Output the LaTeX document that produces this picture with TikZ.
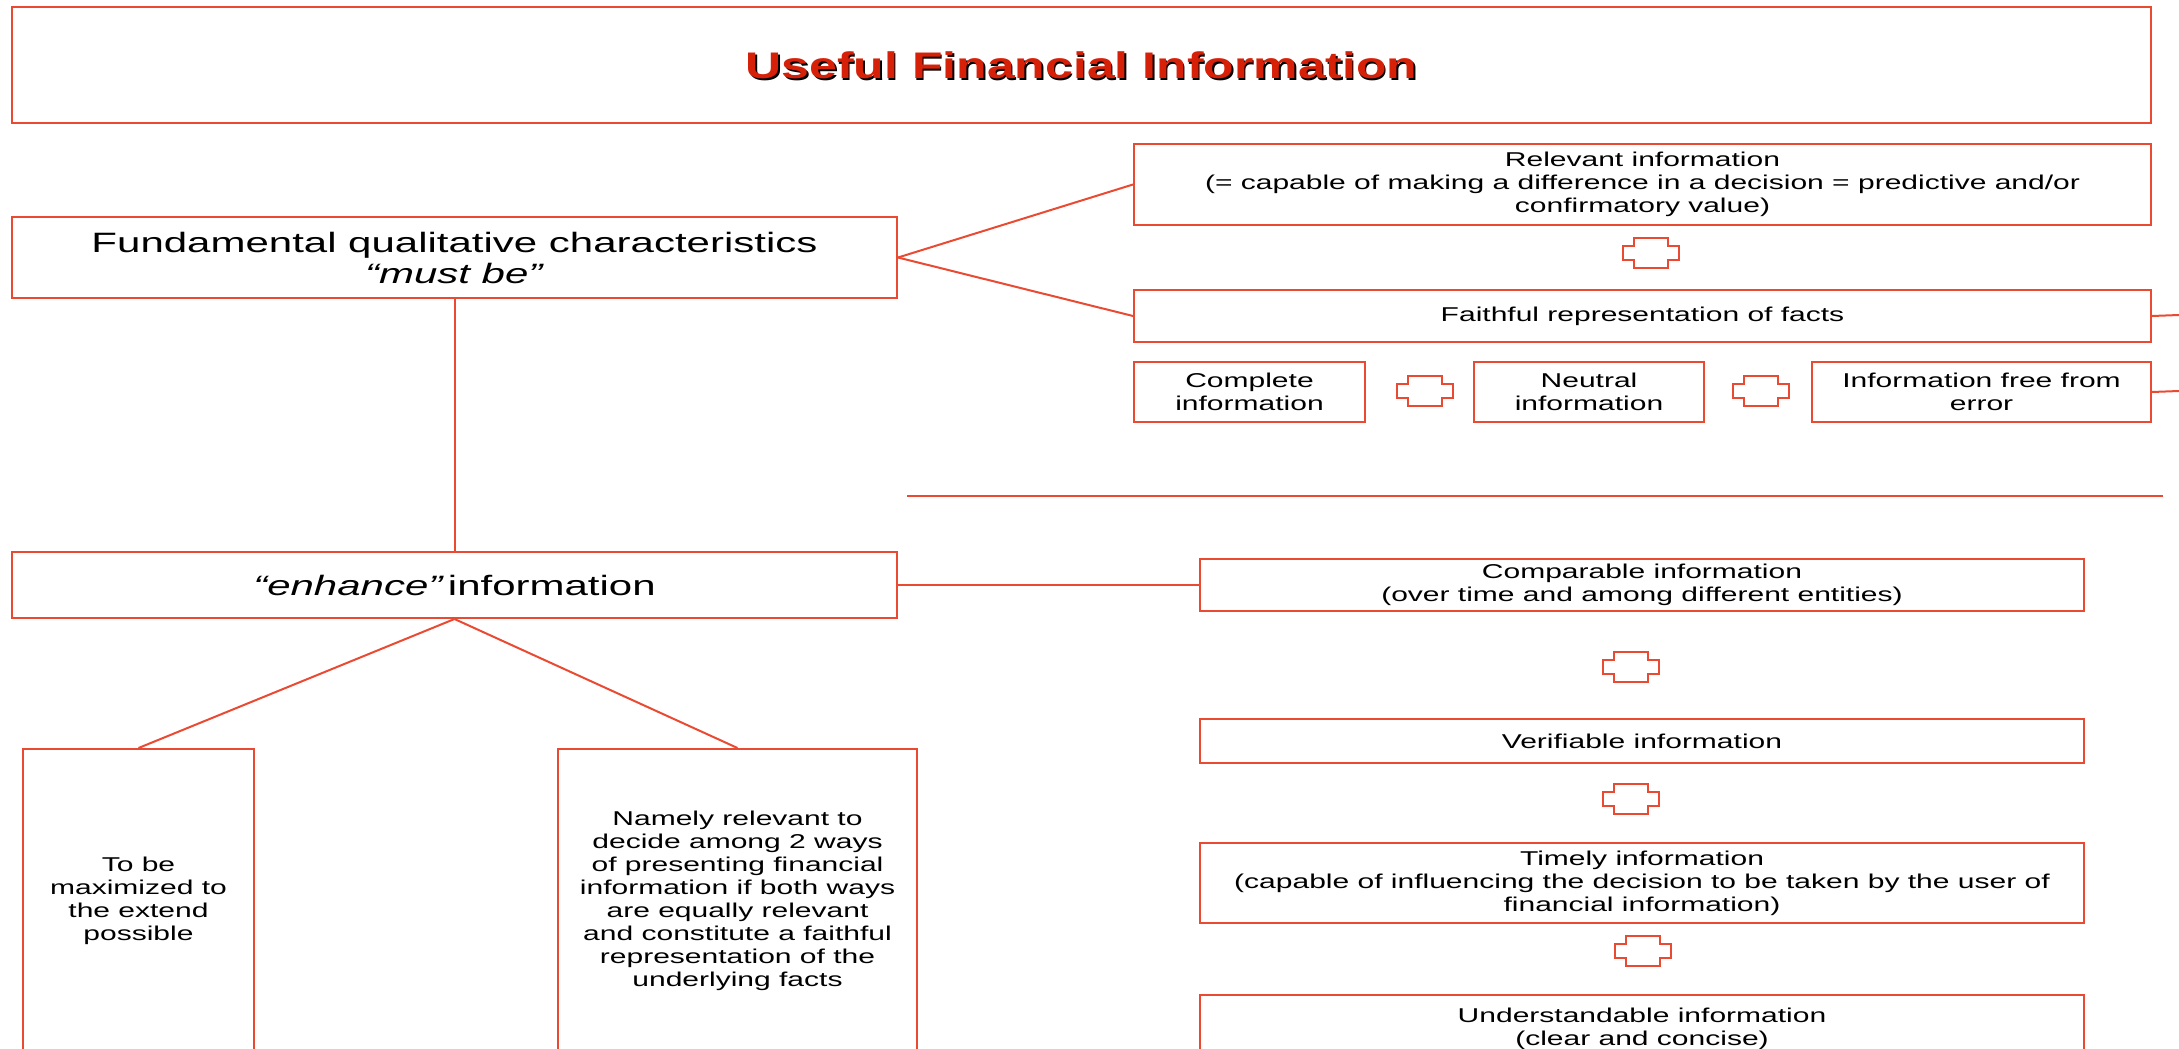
\documentclass[tikz,border=0pt]{standalone}
\usepackage{fontspec}
\newfontfamily\bodyfont[FakeStretch=1.5]{Liberation Sans}
\newfontfamily\headfont[FakeStretch=1.35]{Liberation Sans}
\usetikzlibrary{positioning,calc}
\definecolor{boxred}{RGB}{234,74,50}
\definecolor{titlered}{RGB}{214,32,8}
\tikzset{
  box/.style     ={draw=boxred,line width=2pt,inner sep=0pt,align=center,anchor=north west,
                   font=\bodyfont\fontsize{20}{23}\selectfont},
  bigbox/.style  ={box,font=\bodyfont\fontsize{28}{31}\selectfont},
  titletext/.style={font=\headfont\bfseries\fontsize{37}{40}\selectfont},
  link/.style    ={draw=boxred,line width=2pt},
  plusmark/.pic  ={\draw[boxred,line width=2.2pt] (-28,-7) -- (-17,-7) -- (-17,-15) -- (17,-15) -- (17,-7)
                   -- (28,-7) -- (28,7) -- (17,7) -- (17,15) -- (-17,15) -- (-17,7) -- (-28,7) -- cycle;}
}
\begin{document}
\begin{tikzpicture}[x=1pt,y=-1pt]
    \useasboundingbox (0,0) rectangle (2179,1049);
    \clip (0,0) rectangle (2179,1049);
    % title
    \node[titletext,black] (titleshadow) at (1083,67) {Useful Financial Information};
    \node[box,titletext,text=titlered,minimum width=2139pt,minimum height=116pt] (title) at (11,6)
      {Useful Financial Information};
    % fundamental characteristics
    \node[bigbox,minimum width=885pt,minimum height=81pt] (fund) at (11,216)
      {Fundamental qualitative characteristics\\\textit{“must be”}};
    \node[box,minimum width=1017pt,minimum height=81pt] (relevant) at (1133,143)
      {Relevant information\\(= capable of making a difference in a decision = predictive and/or\\confirmatory value)};
    \node[box,minimum width=1017pt,minimum height=52pt] (faithful) at (1133,289)
      {Faithful representation of facts};
    \node[box,minimum width=231pt,minimum height=60pt] (complete) at (1133,361) {Complete\\information};
    \node[box,minimum width=230pt,minimum height=60pt] (neutral)  at (1473,361) {Neutral\\information};
    \node[box,minimum width=339pt,minimum height=60pt] (errorfree) at (1811,361) {Information free from\\error};
    \pic at (1651,253) {plusmark};
    \pic at (1425,391) {plusmark};
    \pic at (1761,391) {plusmark};
    \coordinate (faithfulout) at (2179,315);
    \coordinate (errorout)    at (2179,391);
    \coordinate (sepleft)  at (907,496);
    \coordinate (sepright) at (2163,496);
    % enhancing characteristics
    \node[bigbox,minimum width=885pt,minimum height=66pt] (enhance) at (11,551)
      {\textit{“enhance”}\hspace{4pt}information};
    \node[box,minimum width=231pt,minimum height=304pt] (maximize) at (22,748)
      {To be\\maximized to\\the extend\\possible};
    \node[box,minimum width=359pt,minimum height=304pt] (namely) at (557,748)
      {Namely relevant to\\decide among 2 ways\\of presenting financial\\information if both ways\\are equally relevant\\and constitute a faithful\\representation of the\\underlying facts};
    \node[box,minimum width=884pt,minimum height=52pt] (comparable) at (1199,558)
      {Comparable information\\(over time and among different entities)};
    \node[box,minimum width=884pt,minimum height=44pt] (verifiable) at (1199,718)
      {Verifiable information};
    \node[box,minimum width=884pt,minimum height=80pt] (timely) at (1199,842)
      {Timely information\\(capable of influencing the decision to be taken by the user of\\financial information)};
    \node[box,minimum width=884pt,minimum height=68pt] (understand) at (1199,994)
      {Understandable information\\(clear and concise)};
    \pic at (1631,667) {plusmark};
    \pic at (1631,799) {plusmark};
    \pic at (1643,951) {plusmark};
    % links
    \draw[link] (fund.east) -- (relevant.west);
    \draw[link] (fund.east) -- (faithful.west);
    \draw[link] (faithful.east) -- (faithfulout);
    \draw[link] (errorfree.east) -- (errorout);
    \draw[link] (sepleft) -- (sepright);
    \draw[link] (fund.south) -- (enhance.north);
    \draw[link] (enhance.east) -- (comparable.west);
    \draw[link] (enhance.south) -- (maximize.north);
    \draw[link] (enhance.south) -- (namely.north);
\end{tikzpicture}
\end{document}
